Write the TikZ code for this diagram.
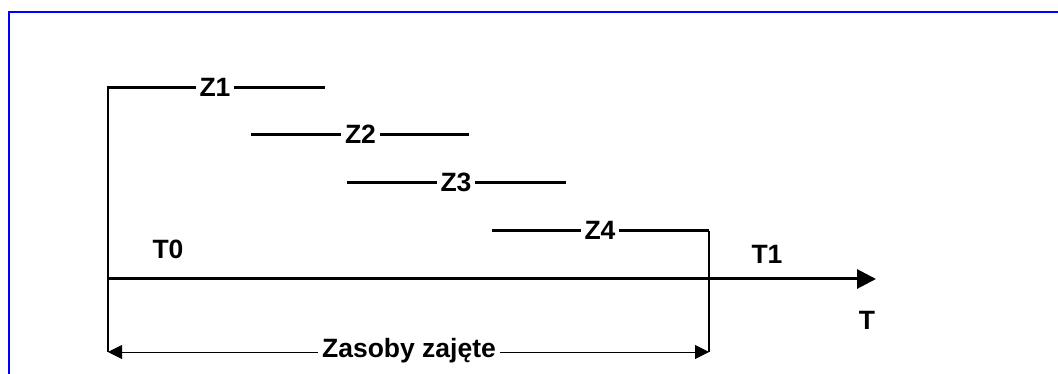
\documentclass[tikz,border=0pt]{standalone}
\usepackage{fontspec}
\setmainfont{Liberation Sans}
\usetikzlibrary{arrows.meta}
\begin{document}
\begin{tikzpicture}[x=1pt,y=-1pt,
  lbl/.style={font=\fontsize{26.5}{30}\selectfont\bfseries, inner sep=0pt},
  zlbl/.style={lbl, fill=white, inner xsep=4pt, inner ysep=2pt},
  bar/.style={line width=3pt},
  thin/.style={line width=1.3pt},
  dim/.style={line width=1pt, {Triangle[length=14pt,width=14pt]}-{Triangle[length=14pt,width=14pt]}},
  axis/.style={line width=3pt, -{Triangle[length=19pt,width=19pt]}}]
\useasboundingbox (0,0) rectangle (1058,374);
% blue frame (top and left edges visible)
\draw[blue, line width=2.3pt] (9,380) -- (9,12) -- (1070,12);
% coordinates
\coordinate (z1s) at (107,88);  \coordinate (z1e) at (325,88);
\coordinate (z2s) at (251,135); \coordinate (z2e) at (469,135);
\coordinate (z3s) at (347,183); \coordinate (z3e) at (566,183);
\coordinate (z4s) at (492,231); \coordinate (z4e) at (709,231);
\coordinate (ax0) at (107,279); \coordinate (ax1) at (876,279);
\coordinate (dl) at (108,352);  \coordinate (dr) at (709,352);
% verticals
\draw[thin] (108,88) -- (dl);
\draw[thin] (z4e) -- (dr);
% bars
\draw[bar] (z1s) -- (z1e);
\draw[bar] (z2s) -- (z2e);
\draw[bar] (z3s) -- (z3e);
\draw[bar] (z4s) -- (z4e);
\node[zlbl] (Z1) at (215,87) {Z1};
\node[zlbl] (Z2) at (360.5,134) {Z2};
\node[zlbl] (Z3) at (456,182) {Z3};
\node[zlbl] (Z4) at (600,230) {Z4};
% axis
\draw[axis] (ax0) -- (ax1);
\node[lbl] (T0) at (168,249) {T0};
\node[lbl] (T1) at (767,254) {T1};
\node[lbl] (T) at (867,320) {T};
% dimension
\draw[dim] (dl) -- (dr);
\node[lbl, fill=white, inner xsep=4pt, anchor=base] (zas) at (409,357) {Zasoby zajęte};
\end{tikzpicture}
\end{document}
